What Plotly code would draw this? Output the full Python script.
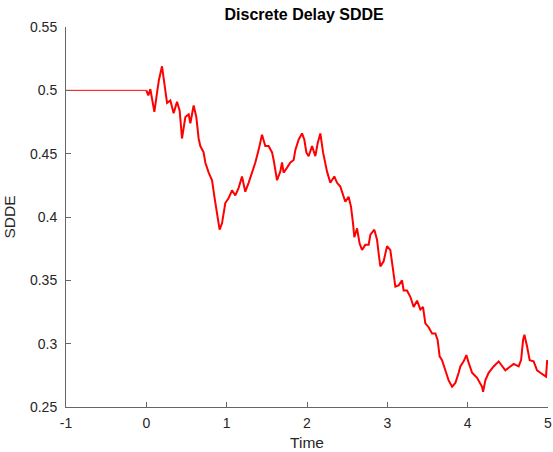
import plotly.graph_objects as go

# delay history (constant) on [-1, 0]
hist_t = [-1.0, 0.0]
hist_v = [0.5, 0.5]

t = [0.000, 0.025, 0.050, 0.075, 0.100, 0.133, 0.156, 0.195, 0.224, 0.258,
     0.299, 0.340, 0.382, 0.415, 0.444, 0.486, 0.527, 0.548, 0.589, 0.622,
     0.651, 0.672, 0.713, 0.734, 0.776, 0.818, 0.847, 0.880, 0.912, 0.942,
     0.983, 1.025, 1.067, 1.108, 1.149, 1.191, 1.232, 1.273, 1.316, 1.357,
     1.398, 1.440, 1.481, 1.522, 1.565, 1.585, 1.627, 1.668, 1.689, 1.709,
     1.752, 1.793, 1.834, 1.855, 1.896, 1.938, 1.967, 1.992, 2.020, 2.063,
     2.104, 2.132, 2.166, 2.200, 2.249, 2.290, 2.340, 2.374, 2.415, 2.436,
     2.477, 2.518, 2.548, 2.573, 2.589, 2.623, 2.655, 2.685, 2.726, 2.767,
     2.789, 2.838, 2.872, 2.892, 2.913, 2.954, 2.996, 3.037, 3.059, 3.079,
     3.100, 3.141, 3.183, 3.203, 3.245, 3.286, 3.328, 3.370, 3.411, 3.444,
     3.473, 3.514, 3.557, 3.598, 3.626, 3.651, 3.681, 3.722, 3.763, 3.806,
     3.847, 3.888, 3.909, 3.950, 3.984, 4.012, 4.055, 4.117, 4.179, 4.192,
     4.220, 4.261, 4.323, 4.386, 4.428, 4.469, 4.531, 4.572, 4.635, 4.665,
     4.690, 4.706, 4.739, 4.772, 4.821, 4.864, 4.905, 4.946, 4.975, 4.990,
     5.000]
v = [0.500, 0.496, 0.501, 0.492, 0.483, 0.498, 0.508, 0.519, 0.506, 0.490,
     0.492, 0.482, 0.491, 0.484, 0.462, 0.479, 0.481, 0.474, 0.488, 0.479,
     0.462, 0.456, 0.451, 0.443, 0.435, 0.429, 0.416, 0.403, 0.390, 0.395,
     0.411, 0.415, 0.421, 0.417, 0.423, 0.432, 0.420, 0.427, 0.435, 0.443,
     0.453, 0.465, 0.456, 0.456, 0.451, 0.445, 0.429, 0.436, 0.443, 0.435,
     0.439, 0.443, 0.445, 0.453, 0.461, 0.466, 0.461, 0.451, 0.448, 0.456,
     0.448, 0.458, 0.466, 0.451, 0.436, 0.427, 0.432, 0.427, 0.424, 0.420,
     0.412, 0.416, 0.408, 0.395, 0.384, 0.391, 0.379, 0.374, 0.378, 0.378,
     0.386, 0.390, 0.382, 0.371, 0.361, 0.365, 0.377, 0.374, 0.364, 0.356,
     0.345, 0.346, 0.350, 0.342, 0.342, 0.337, 0.329, 0.334, 0.327, 0.329,
     0.316, 0.313, 0.308, 0.308, 0.303, 0.290, 0.287, 0.279, 0.271, 0.266,
     0.269, 0.277, 0.282, 0.286, 0.291, 0.285, 0.277, 0.273, 0.266, 0.262,
     0.271, 0.277, 0.282, 0.286, 0.282, 0.279, 0.282, 0.284, 0.282, 0.287,
     0.303, 0.307, 0.298, 0.287, 0.286, 0.279, 0.277, 0.275, 0.274, 0.287,
     0.284]

x_ticks = [-1, 0, 1, 2, 3, 4, 5]
x_tick_text = ["-1", "0", "1", "2", "3", "4", "5"]
y_ticks = [0.25, 0.3, 0.35, 0.4, 0.45, 0.5, 0.55]
y_tick_text = ["0.25", "0.3", "0.35", "0.4", "0.45", "0.5", "0.55"]

FONT = "Liberation Sans, Arial, Helvetica, sans-serif"
AX = "#666666"

fig = go.Figure()
fig.add_trace(go.Scatter(x=hist_t, y=hist_v, mode="lines",
                         line=dict(color="#ff0000", width=1), showlegend=False))
fig.add_trace(go.Scatter(x=t, y=v, mode="lines",
                         line=dict(color="#ff0000", width=2), showlegend=False))

fig.update_layout(
    width=553, height=452,
    margin=dict(l=66, r=5, t=27, b=45, autoexpand=False),
    paper_bgcolor="white", plot_bgcolor="white",
    font=dict(family=FONT, size=14, color="#262626"),
    title=dict(text="<b>Discrete Delay SDDE</b>", xref="container", x=0.55,
               xanchor="center", yref="container", y=1 - 14 / 452,
               yanchor="middle", font=dict(size=16, color="#000000")),
)
fig.update_xaxes(range=[-1, 5], tickvals=x_ticks, ticktext=x_tick_text,
                 automargin=False,
                 showgrid=False, zeroline=False, showline=True, linecolor=AX,
                 linewidth=1, ticks="inside", ticklen=5, tickcolor=AX,
                 ticklabelstandoff=3,
                 tickfont=dict(size=14, color="#262626"),
                 title=dict(text="Time", font=dict(size=15.5), standoff=7))
fig.update_yaxes(range=[0.25, 0.55], tickvals=y_ticks, ticktext=y_tick_text,
                 automargin=False,
                 showgrid=False, zeroline=False, showline=True, linecolor=AX,
                 linewidth=1, ticks="inside", ticklen=5, tickcolor=AX,
                 ticklabelstandoff=5,
                 tickfont=dict(size=14, color="#262626"),
                 title=dict(text="SDDE", font=dict(size=15.5), standoff=10))

fig.write_html("out.html", config={"displayModeBar": False})

# remove the browser's default page margin so the figure sits at (0, 0)
with open("out.html", "r", encoding="utf-8") as f:
    html = f.read()
html = html.replace("<head>", "<head><style>html,body{margin:0;padding:0;}</style>", 1)
with open("out.html", "w", encoding="utf-8") as f:
    f.write(html)
